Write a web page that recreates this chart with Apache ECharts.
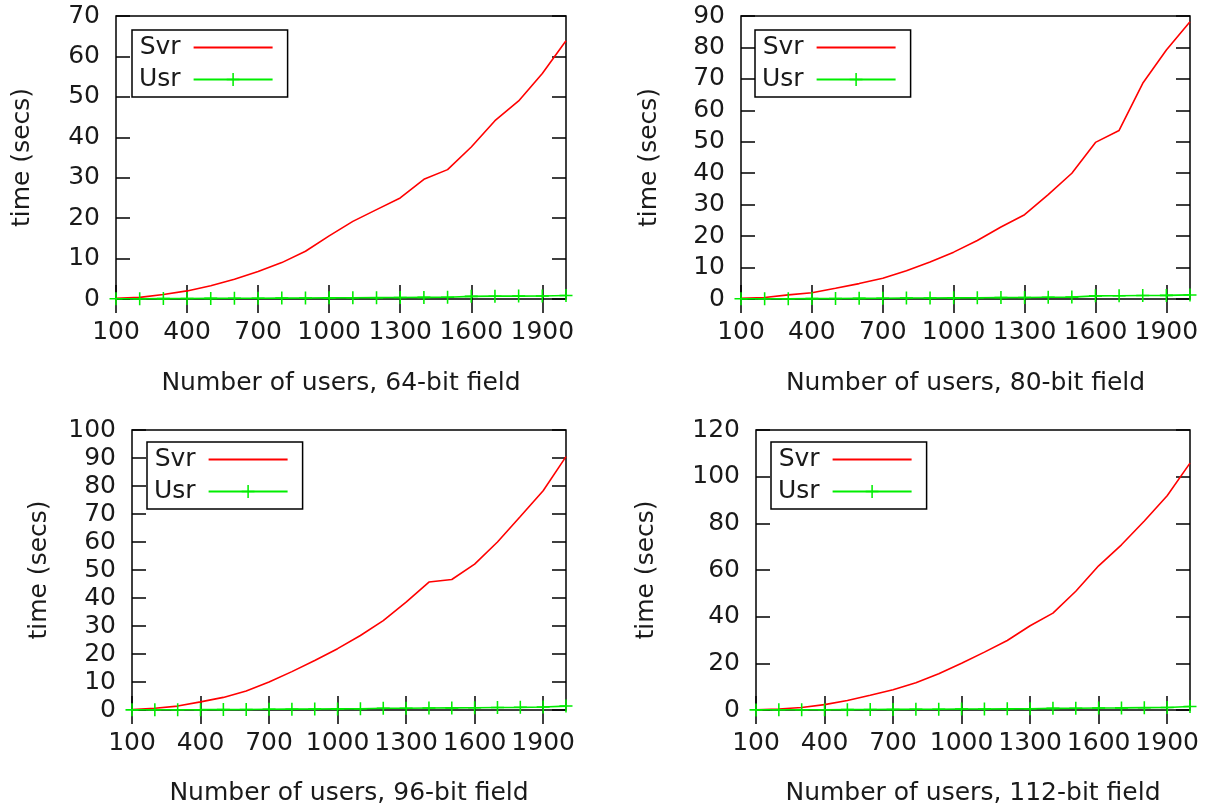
<!DOCTYPE html>
<html>
<head>
<meta charset="utf-8">
<script src="https://cdn.jsdelivr.net/npm/echarts@6.0.0/dist/echarts.min.js"></script>
<style>
html,body{margin:0;padding:0;background:#fff;}
#chart{width:1211px;height:807px;}
</style>
</head>
<body>
<div id="chart"></div>
<script>
// ---- data ----
const users = [100,200,300,400,500,600,700,800,900,1000,1100,1200,1300,1400,1500,1600,1700,1800,1900,2000];
const xTickLabels = [100,400,700,1000,1300,1600,1900];

const svr64  = [0.2,0.4,1.1,2.0,3.3,4.9,6.8,9.0,11.8,15.6,19.2,22.1,25.0,29.6,32.0,37.6,44.1,49.0,55.8,63.9];
const usr64  = [0.05,0.07,0.1,0.12,0.15,0.18,0.2,0.22,0.25,0.28,0.3,0.33,0.36,0.4,0.45,0.65,0.7,0.72,0.75,0.85];

const svr80  = [0.2,0.5,1.3,2.0,3.4,4.9,6.6,9.0,11.8,14.9,18.6,22.9,26.8,33.2,40.0,49.8,53.6,68.6,79.2,88.2];
const usr80  = [0.05,0.07,0.1,0.12,0.15,0.2,0.25,0.3,0.33,0.36,0.4,0.45,0.5,0.55,0.6,1.0,1.05,1.1,1.15,1.3];

const svr96  = [0.2,0.6,1.4,2.9,4.5,6.8,10.0,13.7,17.7,21.9,26.6,31.9,38.5,45.7,46.6,52.1,60.0,69.1,78.3,90.5];
const usr96  = [0.05,0.08,0.1,0.12,0.15,0.2,0.25,0.3,0.35,0.4,0.45,0.6,0.65,0.7,0.75,0.8,0.9,0.95,1.05,1.4];

const svr112 = [0.1,0.4,1.1,2.3,4.1,6.3,8.7,11.7,15.5,20.0,24.8,29.8,36.1,41.5,50.9,61.8,70.8,81.0,91.8,105.8];
const usr112 = [0.05,0.08,0.1,0.12,0.15,0.2,0.25,0.3,0.35,0.4,0.45,0.5,0.55,0.7,0.75,0.85,0.9,1.0,1.1,1.5];

const xTitles = ['Number of users, 64-bit field','Number of users, 80-bit field','Number of users, 96-bit field','Number of users, 112-bit field'];
const yTitle = 'time (secs)';
const yMax = [70,90,100,120];
const yStep = [10,10,10,20];

// ---- layout ----
const panels = [
  {left:116, top:16,  width:450, height:283, yGap:81, legend:{left:132, top:30}},
  {left:741, top:16,  width:449, height:283, yGap:79, legend:{left:755, top:30}},
  {left:132, top:430, width:434, height:281, yGap:80, legend:{left:147, top:442}},
  {left:756, top:430, width:434, height:281, yGap:97, legend:{left:771, top:442}}
];
const svrData = [svr64, svr80, svr96, svr112];
const usrData = [usr64, usr80, usr96, usr112];

const FONT = 'DejaVu Sans';
const TXT = '#1a1a1a';
const FS = 25;
const plusPath = 'path://M-1.2,-10H1.2V-1.2H10V1.2H1.2V10H-1.2V1.2H-10V-1.2H-1.2Z';

const grids = [], xAxes = [], yAxes = [], series = [], legends = [];
panels.forEach((p, i) => {
  grids.push({left:p.left, top:p.top, width:p.width, height:p.height,
    show:true, borderColor:'#000', borderWidth:1.5, backgroundColor:'transparent'});
  const tickStyle = {show:true, inside:true, length:14, lineStyle:{color:'#000', width:1.5}};
  xAxes.push({
    type:'value', gridIndex:i, min:100, max:2000, position:'bottom',
    name:xTitles[i], nameLocation:'middle', nameGap: i < 2 ? 72 : 71,
    nameTextStyle:{fontFamily:FONT, fontSize:FS, color:TXT},
    axisLine:{show:false}, splitLine:{show:false},
    axisTick:Object.assign({customValues:xTickLabels}, tickStyle),
    axisLabel:{customValues:xTickLabels, formatter:v => String(v), hideOverlap:false,
      fontFamily:FONT, fontSize:FS, color:TXT, margin:21}
  });
  xAxes.push({
    type:'value', gridIndex:i, min:100, max:2000, position:'top',
    axisLine:{show:false}, splitLine:{show:false},
    axisTick:Object.assign({customValues:xTickLabels}, tickStyle),
    axisLabel:{show:false}
  });
  yAxes.push({
    type:'value', gridIndex:i, min:0, max:yMax[i], interval:yStep[i], position:'left',
    name:yTitle, nameLocation:'middle', nameGap:p.yGap,
    nameTextStyle:{fontFamily:FONT, fontSize:FS, color:TXT},
    axisLine:{show:false}, splitLine:{show:false},
    axisTick:tickStyle,
    axisLabel:{fontFamily:FONT, fontSize:FS, color:TXT, margin:16}
  });
  yAxes.push({
    type:'value', gridIndex:i, min:0, max:yMax[i], interval:yStep[i], position:'right',
    axisLine:{show:false}, splitLine:{show:false},
    axisTick:tickStyle, axisLabel:{show:false}
  });
  series.push({
    type:'line', name:'Svr', xAxisIndex:2*i, yAxisIndex:2*i,
    data: users.map((u, k) => [u, svrData[i][k]]),
    symbol:'none', lineStyle:{color:'#ff0000', width:1.6}, itemStyle:{color:'#ff0000'},
    animation:false, z:3
  });
  series.push({
    type:'line', name:'Usr', xAxisIndex:2*i, yAxisIndex:2*i,
    data: users.map((u, k) => [u, usrData[i][k]]),
    symbol:plusPath, symbolSize:13, showSymbol:true, clip:false,
    lineStyle:{color:'#00ee00', width:1.6}, itemStyle:{color:'#00ee00'},
    animation:false, z:4
  });
  legends.push({
    left:p.legend.left, top:p.legend.top, orient:'vertical', align:'right',
    data:[{name:'Svr', itemStyle:{color:'rgba(0,0,0,0)', borderWidth:0, opacity:0}}, 'Usr'],
    selectedMode:false,
    backgroundColor:'#fff', borderColor:'#000', borderWidth:1.5,
    padding:[5,14,5,7], itemGap:7, itemWidth:79, itemHeight:16,
    textStyle:{fontFamily:FONT, fontSize:FS, color:TXT, lineHeight:25, padding:[0,8,0,0]}
  });
});

const chart = echarts.init(document.getElementById('chart'), null, {renderer:'canvas'});
chart.setOption({
  backgroundColor:'#fff',
  animation:false,
  grid:grids, xAxis:xAxes, yAxis:yAxes, series:series, legend:legends
});
</script>
</body>
</html>
